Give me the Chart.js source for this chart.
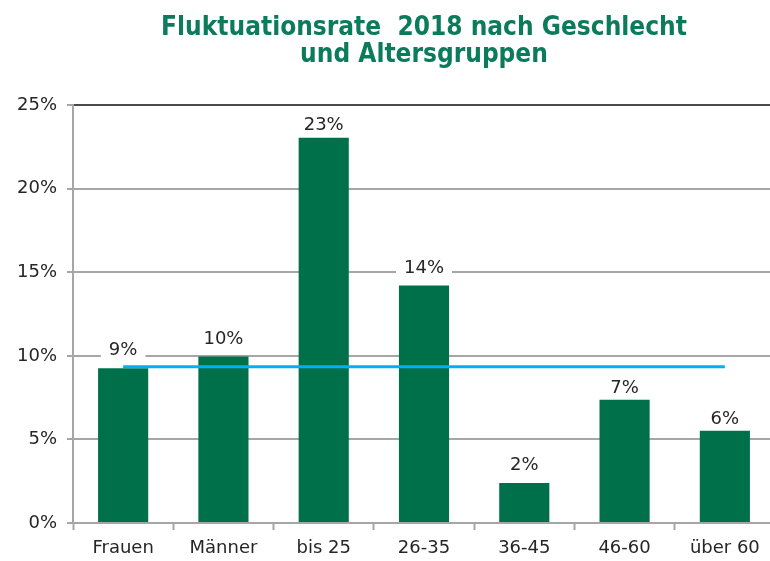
<!DOCTYPE html>
<html>
<head>
<meta charset="utf-8">
<script src="https://cdn.jsdelivr.net/npm/chart.js@4/dist/chart.umd.min.js"></script>
<style>
  html, body { margin: 0; padding: 0; background: #fff; overflow: hidden; }
  #wrap { width: 775px; height: 561px; }
</style>
</head>
<body>
<div id="wrap"><canvas id="c" width="775" height="561"></canvas></div>
<script>
// ---- data ----
const categories = ['Frauen', 'Männer', 'bis 25', '26-35', '36-45', '46-60', 'über 60'];
const rates = [9.25, 9.96, 23.05, 14.2, 2.4, 7.38, 5.52];
const averageRate = [9.35, 9.35, 9.35, 9.35, 9.35, 9.35, 9.35];
const yTicks = [0, 5, 10, 15, 20, 25];
const titleLines = ['Fluktuationsrate  2018 nach Geschlecht', 'und Altersgruppen'];

// ---- styles ----
const labelGap = [13, 13, 8, 13, 13, 7, 7];
const FONT = "'DejaVu Sans', Verdana, sans-serif";
const GRID = '#A6A6A6';
const TEXT = '#262626';

const valueLabels = {
  id: 'valueLabels',
  afterDatasetsDraw(chart) {
    const ctx = chart.ctx;
    const meta = chart.getDatasetMeta(1);
    ctx.save();
    ctx.font = '18px ' + FONT;
    ctx.textAlign = 'center';
    ctx.textBaseline = 'alphabetic';
    meta.data.forEach((bar, i) => {
      const txt = Math.round(rates[i]) + '%';
      const y = bar.y - labelGap[i];
      const w = ctx.measureText(txt).width;
      ctx.fillStyle = '#fff';
      ctx.fillRect(bar.x - w / 2 - 8, y - 15, w + 16, 19);
      ctx.fillStyle = TEXT;
      ctx.fillText(txt, bar.x, y);
    });
    ctx.restore();
  }
};

new Chart(document.getElementById('c'), {
  data: {
    labels: categories,
    datasets: [
      {
        type: 'line',
        data: averageRate,
        borderColor: '#00B0F0',
        borderWidth: 3,
        pointRadius: 0,
        fill: false,
        order: 0
      },
      {
        type: 'bar',
        data: rates,
        backgroundColor: '#00704A',
        barPercentage: 0.5,
        categoryPercentage: 1.0,
        order: 1
      }
    ]
  },
  options: {
    responsive: false,
    animation: false,
    layout: { padding: { left: 0, right: 0, top: 0, bottom: 0 } },
    plugins: {
      legend: { display: false },
      tooltip: { enabled: false },
      title: {
        display: true,
        fullSize: false,
        text: titleLines,
        color: '#0B7B5C',
        font: { family: "'DejaVu Sans Condensed', 'DejaVu Sans', sans-serif", size: 26, weight: 'bold', lineHeight: 1.04 },
        padding: { top: 15, bottom: 36 }
      }
    },
    scales: {
      x: {
        type: 'category',
        offset: true,
        grid: {
          display: true,
          offset: true,
          drawOnChartArea: false,
          drawTicks: true,
          tickLength: 7,
          tickColor: GRID,
          tickWidth: 2
        },
        border: { display: true, color: GRID, width: 2 },
        ticks: { color: TEXT, font: { family: FONT, size: 18 }, padding: 8, maxRotation: 0 },
        afterFit(scale) { scale.height = 38; }
      },
      y: {
        min: 0,
        max: 25,
        afterBuildTicks(scale) { scale.ticks = yTicks.map(v => ({ value: v })); },
        grid: {
          color: ctx => (ctx.tick && ctx.tick.value === 25) ? '#4A4A4A' : GRID,
          lineWidth: 2,
          drawTicks: true,
          tickLength: 6,
          tickColor: GRID,
          tickWidth: 2
        },
        border: { display: true, color: GRID, width: 2 },
        ticks: {
          color: TEXT,
          font: { family: FONT, size: 18 },
          padding: 10,
          callback: v => v + '%'
        },
        afterFit(scale) { scale.width = 73; }
      }
    }
  },
  plugins: [valueLabels]
});
</script>
</body>
</html>
